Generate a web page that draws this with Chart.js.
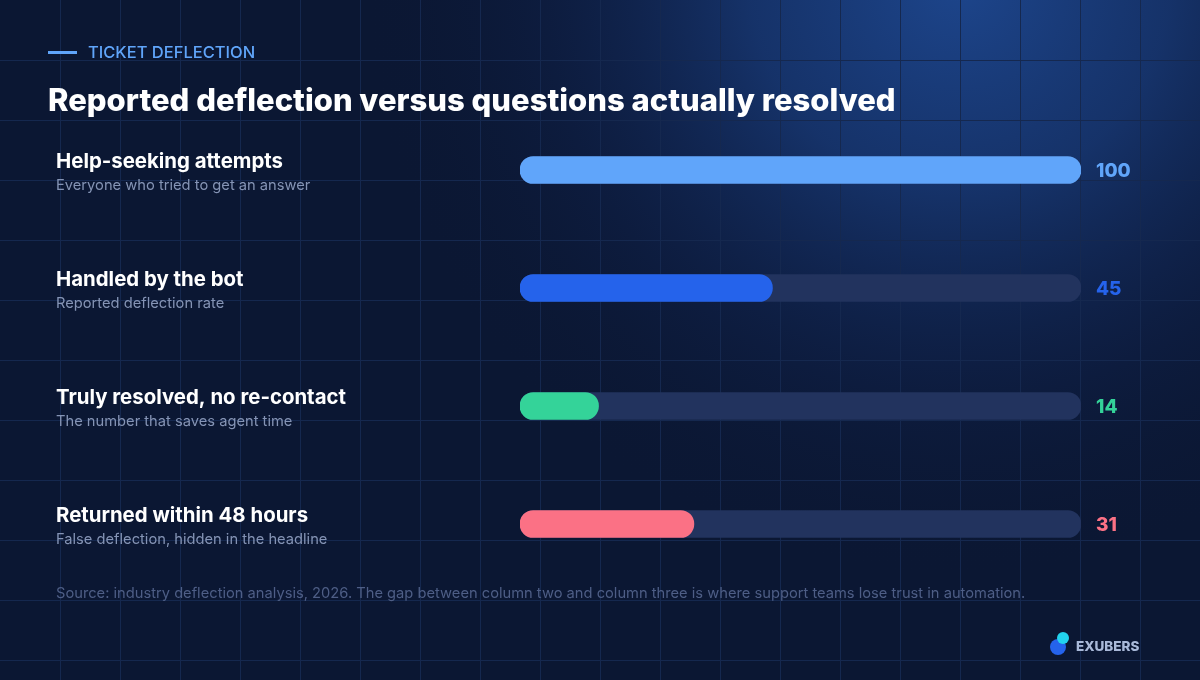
<!DOCTYPE html>
<html>
<head>
<meta charset="utf-8">
<script src="https://cdn.jsdelivr.net/npm/chart.js@4.4.1/dist/chart.umd.min.js"></script>
<style>
html,body{margin:0;padding:0;background:#0b1733;}
#wrap{position:relative;width:1200px;height:680px;}
canvas{display:block;}
</style>
</head>
<body>
<div id="wrap"><canvas id="c" width="1200" height="680"></canvas></div>
<script>
const categories = ["Help-seeking attempts","Handled by the bot","Truly resolved, no re-contact","Returned within 48 hours"];
const subtitles = ["Everyone who tried to get an answer","Reported deflection rate","The number that saves agent time","False deflection, hidden in the headline"];
const values = [100, 45, 14, 31];
const trackValues = [100, 100, 100, 100];
const barColors = ["#60a5fa","#2563eb","#34d399","#fb7185"];

const FONT = "Inter, 'Open Sans', sans-serif";

const bgPlugin = {
  id: 'bg',
  beforeDraw(chart) {
    const ctx = chart.ctx;
    const W = chart.width, H = chart.height;
    ctx.save();
    ctx.fillStyle = '#0b1733';
    ctx.fillRect(0,0,W,H);
    const g = ctx.createRadialGradient(960, -20, 0, 960, -20, 600);
    g.addColorStop(0, 'rgba(30,72,145,0.95)');
    g.addColorStop(0.35, 'rgba(26,62,128,0.7)');
    g.addColorStop(0.7, 'rgba(18,40,90,0.28)');
    g.addColorStop(1, 'rgba(11,23,51,0)');
    ctx.fillStyle = g;
    ctx.fillRect(0,0,W,H);
    ctx.strokeStyle = '#15284f';
    ctx.lineWidth = 1;
    ctx.beginPath();
    for (let x = 60; x < W; x += 60) { ctx.moveTo(x+0.5, 0); ctx.lineTo(x+0.5, H); }
    for (let y = 60; y < H; y += 60) { ctx.moveTo(0, y+0.5); ctx.lineTo(W, y+0.5); }
    ctx.stroke();

    // kicker
    ctx.fillStyle = '#60a5fa';
    ctx.fillRect(48, 51, 29, 3);
    ctx.font = "500 16.5px " + FONT;
    ctx.textBaseline = 'middle';
    ctx.textAlign = 'left';
    ctx.fillText("TICKET DEFLECTION", 88, 53);

    // title
    ctx.fillStyle = '#ffffff';
    ctx.font = "800 31px " + FONT;
    ctx.textBaseline = 'alphabetic';
    ctx.fillText("Reported deflection versus questions actually resolved", 48, 111);

    // footnote
    ctx.fillStyle = '#4e5e86';
    ctx.font = "400 14.7px " + FONT;
    ctx.textBaseline = 'middle';
    ctx.fillText("Source: industry deflection analysis, 2026. The gap between column two and column three is where support teams lose trust in automation.", 56, 594);

    // logo
    ctx.fillStyle = '#2563eb';
    ctx.beginPath(); ctx.arc(1058, 647, 8, 0, Math.PI*2); ctx.fill();
    ctx.fillStyle = '#22d3ee';
    ctx.beginPath(); ctx.arc(1063, 638, 6, 0, Math.PI*2); ctx.fill();
    ctx.fillStyle = '#a9b9d9';
    ctx.font = "800 13.5px " + FONT;
    ctx.fillText("EXUBERS", 1076, 647);
    ctx.restore();
  },
  afterDatasetsDraw(chart) {
    const ctx = chart.ctx;
    const ys = chart.scales.y;
    const xs = chart.scales.x;
    ctx.save();
    categories.forEach((c, i) => {
      const y = ys.getPixelForValue(i);
      ctx.textAlign = 'left';
      ctx.textBaseline = 'middle';
      ctx.fillStyle = '#ffffff';
      ctx.font = "700 20.4px " + FONT;
      ctx.fillText(c, 56, y - 8);
      ctx.fillStyle = '#8594b5';
      ctx.font = "400 14.7px " + FONT;
      ctx.fillText(subtitles[i], 56, y + 16);
      ctx.fillStyle = barColors[i];
      ctx.font = "800 19px " + FONT;
      ctx.fillText(String(values[i]), xs.getPixelForValue(100) + 15, y + 1);
    });
    ctx.restore();
  }
};

new Chart(document.getElementById('c'), {
  type: 'bar',
  data: {
    labels: categories,
    datasets: [
      { data: values, backgroundColor: barColors, borderRadius: 14, borderSkipped: false, barThickness: 27, grouped: false, order: 1 },
      { data: trackValues, backgroundColor: '#22335e', borderRadius: 14, borderSkipped: false, barThickness: 27, grouped: false, order: 2 }
    ]
  },
  options: {
    indexAxis: 'y',
    responsive: false,
    animation: false,
    devicePixelRatio: 1,
    layout: { padding: { left: 520, right: 119, top: 111, bottom: 97 } },
    plugins: { legend: { display: false }, tooltip: { enabled: false } },
    scales: {
      x: { display: false, min: 0, max: 100 },
      y: { display: false }
    }
  },
  plugins: [bgPlugin]
});
</script>
</body>
</html>
